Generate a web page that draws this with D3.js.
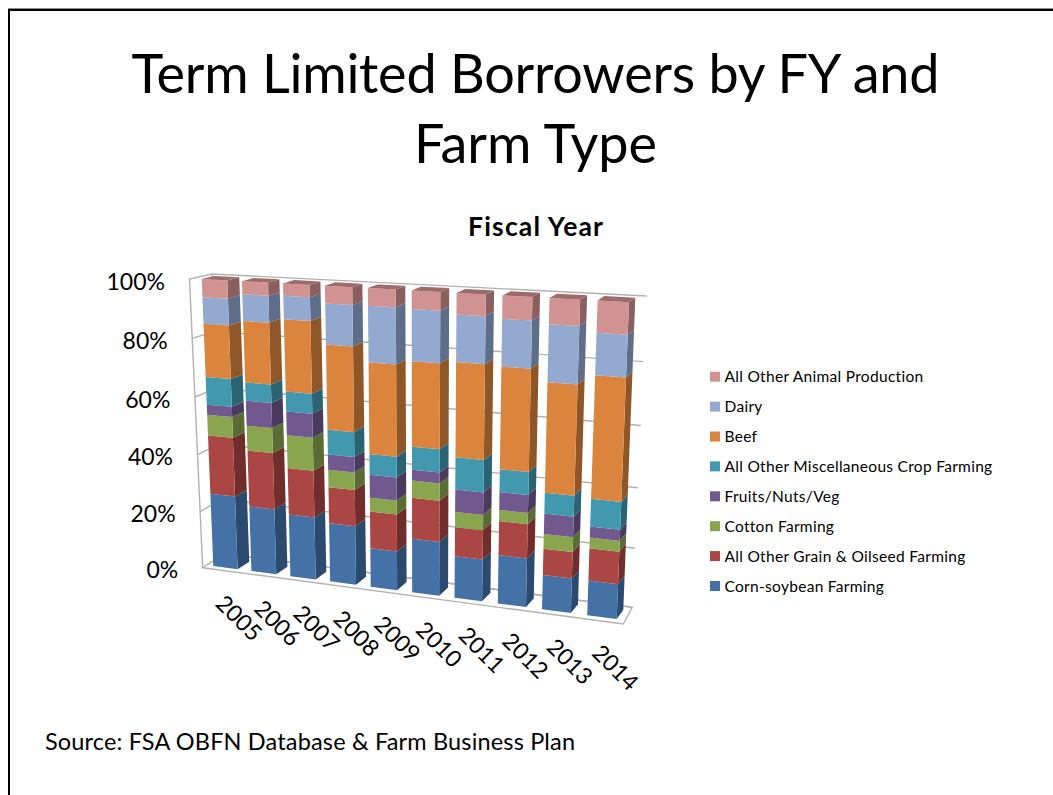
<!DOCTYPE html>
<html>
<head>
<meta charset="utf-8">
<script src="https://cdn.jsdelivr.net/npm/d3@7/dist/d3.min.js"></script>
<style>
  html, body { margin: 0; padding: 0; background: #fff; }
  svg { display: block; }
  text { font-family: Lato, "Open Sans", sans-serif; fill: #000; }
</style>
</head>
<body>
<svg id="chart" width="1053" height="795"></svg>
<script>
// Share of term limited borrowers per fiscal year, in percent
const years = ["2005","2006","2007","2008","2009","2010","2011","2012","2013","2014"];
const cornSoybean = [26.2,23.2,22.0,20.6,13.5,18.5,14.3,16.5,11.6,11.6];
const otherGrain  = [20.6,19.7,16.3,12.5,12.8,14.0,9.9,11.4,8.8,10.7];
const cotton      = [7.2,8.6,11.3,6.0,4.7,5.8,5.1,3.7,4.9,3.5];
const fruitsNuts  = [3.5,8.6,8.1,5.2,7.8,3.6,7.5,5.9,6.7,3.6];
const otherCrop   = [9.5,6.2,6.7,8.4,7.0,7.7,10.7,7.5,6.8,9.0];
const beef        = [18.0,20.6,24.0,28.3,30.3,27.9,30.8,32.9,35.3,38.9];
const dairy       = [8.9,8.8,7.7,13.3,18.3,16.6,15.0,14.9,17.9,13.0];
const otherAnimal = [6.0,4.3,4.0,5.7,5.6,5.8,6.7,7.2,8.0,9.7];

const seriesNames = ["Corn-soybean Farming","All Other Grain & Oilseed Farming","Cotton Farming",
  "Fruits/Nuts/Veg","All Other Miscellaneous Crop Farming","Beef","Dairy","All Other Animal Production"];
const seriesValues = [cornSoybean,otherGrain,cotton,fruitsNuts,otherCrop,beef,dairy,otherAnimal];
const frontColors = ["#4471a6","#aa4643","#89a54e","#71588f","#4198af","#db843d","#93a9cf","#d19392"];
const sideColors  = ["#2c4a6e","#6f2d2b","#5a6c33","#4a3a5e","#2a6473","#8f5628","#5f6e88","#895f5f"];
const topColors   = ["#3a5f8c","#8f3b39","#738a42","#5f4a78","#367f93","#b86f33","#7c8eae","#9c6b6a"];
const yTicks = [0,20,40,60,80,100];

const rows = years.map((y, i) => {
  const row = { year: y };
  seriesNames.forEach((n, s) => { row[n] = seriesValues[s][i]; });
  return row;
});
const layers = d3.stack().keys(seriesNames).offset(d3.stackOffsetExpand)(rows);

// Perspective map from the unit square onto a quadrilateral [(0,0),(1,0),(1,1),(0,1)]
function quadMap(p0, p1, p2, p3) {
  const dx1 = p1[0]-p2[0], dx2 = p3[0]-p2[0], sx = p0[0]-p1[0]+p2[0]-p3[0];
  const dy1 = p1[1]-p2[1], dy2 = p3[1]-p2[1], sy = p0[1]-p1[1]+p2[1]-p3[1];
  const den = dx1*dy2 - dx2*dy1;
  const g = (sx*dy2 - dx2*sy)/den, h = (dx1*sy - sx*dy1)/den;
  const a = p1[0]-p0[0]+g*p1[0], b = p3[0]-p0[0]+h*p3[0], c = p0[0];
  const d = p1[1]-p0[1]+g*p1[1], e = p3[1]-p0[1]+h*p3[1], f = p0[1];
  return (u, v) => {
    const w = g*u + h*v + 1;
    return [(a*u + b*v + c)/w, (d*u + e*v + f)/w];
  };
}

// Projected planes of the 3-D scene: bar fronts, bar backs, and the chart box walls
const barFront = quadMap([201.7,279],[629,302.3],[616.7,619],[213.3,566]);
const barBack  = quadMap([214,276],[635.3,297.7],[623.3,610],[225.3,558.7]);
const backWall = quadMap([212,274],[646.7,296],[632.3,607.3],[224,553.6]);
const sideWall = quadMap([189.5,279],[212,274],[224,553.6],[202.7,567.7]);
const floorBox = quadMap([202.7,567.7],[623.3,624],[632.3,607.3],[224,553.6]);

const xBand = d3.scaleBand().domain(years).range([0,1]).paddingInner(0.36);
const yFrac = d3.scaleLinear().domain([0,1]).range([1,0]);
const yPct  = d3.scaleLinear().domain([0,100]).range([1,0]);

const svg = d3.select("#chart");
const poly = pts => "M" + pts.map(p => p.map(n => n.toFixed(2)).join(",")).join("L") + "Z";

// Slide frame
svg.append("rect").attr("x",8).attr("y",8).attr("width",1045).attr("height",1).attr("fill","#8a8a8a");
svg.append("rect").attr("x",8).attr("y",9).attr("width",1045).attr("height",2).attr("fill","#000");
svg.append("rect").attr("x",8).attr("y",9).attr("width",2).attr("height",786).attr("fill","#000");

// Headings
const title = svg.append("g").attr("text-anchor","middle");
title.append("text").attr("x",535.5).attr("y",93).attr("font-size",54).attr("textLength",808).attr("lengthAdjust","spacing").text("Term Limited Borrowers by FY and");
title.append("text").attr("x",535.5).attr("y",163).attr("font-size",54).attr("textLength",243).attr("lengthAdjust","spacing").text("Farm Type");
svg.append("text").attr("x",535.5).attr("y",236).attr("text-anchor","middle").attr("font-size",26.5).attr("font-weight",700).attr("textLength",135).attr("lengthAdjust","spacing").text("Fiscal Year");
svg.append("text").attr("x",45).attr("y",750).attr("font-size",23.5).attr("textLength",530).attr("lengthAdjust","spacing").text("Source: FSA OBFN Database & Farm Business Plan");

// Walls, gridlines and floor of the box
const wallLine = { stroke:"#b2b2b2", width:1.4 };
const box = svg.append("g").attr("fill","none").attr("stroke",wallLine.stroke).attr("stroke-width",wallLine.width);
box.selectAll("path.grid").data(yTicks.filter(t => t > 0 && t < 100)).join("path").attr("class","grid")
  .attr("d", t => {
    const v = yPct(t);
    return "M" + [sideWall(0,v), sideWall(1,v), backWall(1,v)].map(p => p.join(",")).join("L");
  });
box.append("path").attr("d", "M" + [sideWall(0,1), sideWall(0,0), sideWall(1,0), backWall(1,0)].map(p => p.join(",")).join("L"));
box.append("path").attr("d", "M" + [sideWall(1,0), sideWall(1,1), backWall(1,1)].map(p => p.join(",")).join("L"));
box.append("path").attr("d", poly([floorBox(0,0), floorBox(1,0), floorBox(1,1), floorBox(0,1)]));

// Stacked bars, drawn left to right and bottom to top
const bars = svg.append("g").selectAll("g").data(years).join("g");
bars.each(function(year, i) {
  const g = d3.select(this);
  const u0 = xBand(year), u1 = u0 + xBand.bandwidth();
  layers.forEach((layer, s) => {
    const vLow = yFrac(layer[i][0]), vHigh = yFrac(layer[i][1]);
    g.append("path").attr("fill", sideColors[s])
      .attr("d", poly([barFront(u1,vHigh), barBack(u1,vHigh), barBack(u1,vLow), barFront(u1,vLow)]));
    g.append("path").attr("fill", frontColors[s])
      .attr("d", poly([barFront(u0,vHigh), barFront(u1,vHigh), barFront(u1,vLow), barFront(u0,vLow)]));
  });
  const topLayer = layers.length - 1, vTop = yFrac(layers[topLayer][i][1]);
  g.append("path").attr("fill", topColors[topLayer])
    .attr("d", poly([barFront(u0,vTop), barBack(u0,vTop), barBack(u1,vTop), barFront(u1,vTop)]));
});

// Value axis labels follow the front edge of the side wall
svg.append("g").attr("text-anchor","end").selectAll("text").data(yTicks).join("text")
  .attr("font-size",23)
  .attr("x", t => sideWall(0, yPct(t))[0] - 24.5)
  .attr("y", t => sideWall(0, yPct(t))[1] + 10.5)
  .text(t => t + "%");

// Category labels, rotated under each bar
svg.append("g").attr("text-anchor","middle").selectAll("text").data(years).join("text")
  .attr("font-size",23)
  .attr("transform", y => {
    const p = barFront(xBand(y) + xBand.bandwidth()/2, 1);
    return `translate(${p[0]+13.5},${p[1]+50.5}) rotate(45)`;
  })
  .attr("dy","0.35em")
  .text(y => y);

// Legend, last series on top
const legendOrder = d3.range(seriesNames.length).reverse();
const legendY = d3.scalePoint().domain(legendOrder).range([376.7,586]);
const legend = svg.append("g").selectAll("g").data(legendOrder).join("g")
  .attr("transform", s => `translate(710,${legendY(s)})`);
legend.append("rect").attr("x",0).attr("y",-5).attr("width",10).attr("height",10).attr("fill", s => frontColors[s]);
legend.append("text").attr("x",14.5).attr("y",5.5).attr("font-size",15.5).attr("letter-spacing",0.3).text(s => seriesNames[s]);
</script>
</body>
</html>
